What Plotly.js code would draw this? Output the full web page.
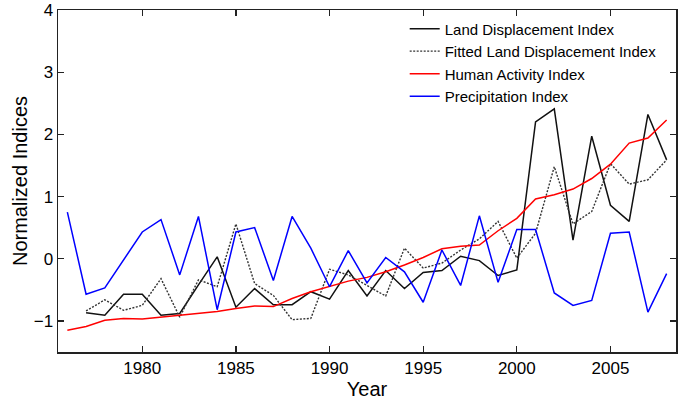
<!DOCTYPE html>
<html>
<head>
<meta charset="utf-8">
<script src="https://cdn.plot.ly/plotly-3.0.1.min.js"></script>
<style>html,body{margin:0;padding:0;background:#fff;}#chart{width:684px;height:403px;}</style>
</head>
<body>
<div id="chart"></div>
<script>
const years = [1976,1977,1978,1979,1980,1981,1982,1983,1984,1985,1986,1987,1988,1989,1990,1991,1992,1993,1994,1995,1996,1997,1998,1999,2000,2001,2002,2003,2004,2005,2006,2007,2008];
const ldYears = years.slice(1);
const landDisplacement = [-0.87,-0.91,-0.57,-0.57,-0.91,-0.88,-0.42,0.03,-0.78,-0.48,-0.74,-0.74,-0.53,-0.65,-0.19,-0.60,-0.19,-0.48,-0.22,-0.19,0.04,-0.03,-0.27,-0.18,2.20,2.41,0.30,1.97,0.86,0.60,2.32,1.59];
const fittedLandDisplacement = [-0.84,-0.66,-0.83,-0.75,-0.32,-0.94,-0.34,-0.45,0.56,-0.40,-0.59,-0.98,-0.96,-0.17,-0.26,-0.43,-0.60,0.17,-0.15,-0.07,0.14,0.32,0.60,0.01,0.41,1.48,0.56,0.76,1.53,1.20,1.27,1.59];
const humanActivity = [-1.15,-1.09,-0.99,-0.96,-0.97,-0.94,-0.91,-0.89,-0.85,-0.80,-0.76,-0.77,-0.64,-0.53,-0.45,-0.36,-0.30,-0.21,-0.10,0.02,0.16,0.20,0.22,0.45,0.65,0.96,1.03,1.12,1.29,1.52,1.86,1.94,2.23];
const precipitation = [0.75,-0.57,-0.47,-0.02,0.43,0.63,-0.26,0.68,-0.82,0.43,0.50,-0.35,0.68,0.17,-0.45,0.13,-0.39,0.02,-0.21,-0.70,0.14,-0.43,0.69,-0.38,0.47,0.47,-0.55,-0.75,-0.67,0.41,0.43,-0.86,-0.24];
const xTicks = [1980,1985,1990,1995,2000,2005];
const yTicks = [-1,0,1,2,3,4];

const traces = [
  {x: ldYears, y: landDisplacement, name: 'Land Displacement Index', mode: 'lines', line: {color: '#111111', width: 1.5}},
  {x: ldYears, y: fittedLandDisplacement, name: 'Fitted Land Displacement Index', mode: 'lines', line: {color: '#333333', width: 1.4, dash: '2px,1.5px'}},
  {x: years, y: humanActivity, name: 'Human Activity Index', mode: 'lines', line: {color: '#ff0000', width: 1.5}},
  {x: years, y: precipitation, name: 'Precipitation Index', mode: 'lines', line: {color: '#0000ff', width: 1.5}}
];
const font = 'Arial, "Liberation Sans", sans-serif';
const layout = {
  width: 684, height: 403,
  margin: {l: 58, r: 8, t: 10, b: 51},
  paper_bgcolor: '#ffffff', plot_bgcolor: '#ffffff',
  font: {family: font, color: '#000', size: 17},
  showlegend: true,
  legend: {x: 0.561, y: 0.993, xanchor: 'left', yanchor: 'top', bgcolor: 'rgba(0,0,0,0)', font: {size: 15, family: font}, tracegroupgap: 0, itemwidth: 30},
  xaxis: {
    range: [1975.5, 2008.5], tickvals: xTicks, ticks: 'inside', ticklen: 6, tickwidth: 1.2, tickcolor: '#222',
    showline: true, linecolor: '#222', linewidth: 1.5, mirror: 'ticks', showgrid: false, zeroline: false,
    tickfont: {size: 17}, title: {text: 'Year', font: {size: 20}, standoff: 3}
  },
  yaxis: {
    range: [-1.5, 4], tickvals: yTicks, ticks: 'inside', ticklen: 6, tickwidth: 1.2, tickcolor: '#222',
    showline: true, linecolor: '#222', linewidth: 1.5, mirror: 'ticks', showgrid: false, zeroline: false,
    tickfont: {size: 17}, title: {text: 'Normalized Indices', font: {size: 20}, standoff: 0}
  }
};
Plotly.newPlot('chart', traces, layout, {displayModeBar: false, staticPlot: true});
</script>
</body>
</html>
